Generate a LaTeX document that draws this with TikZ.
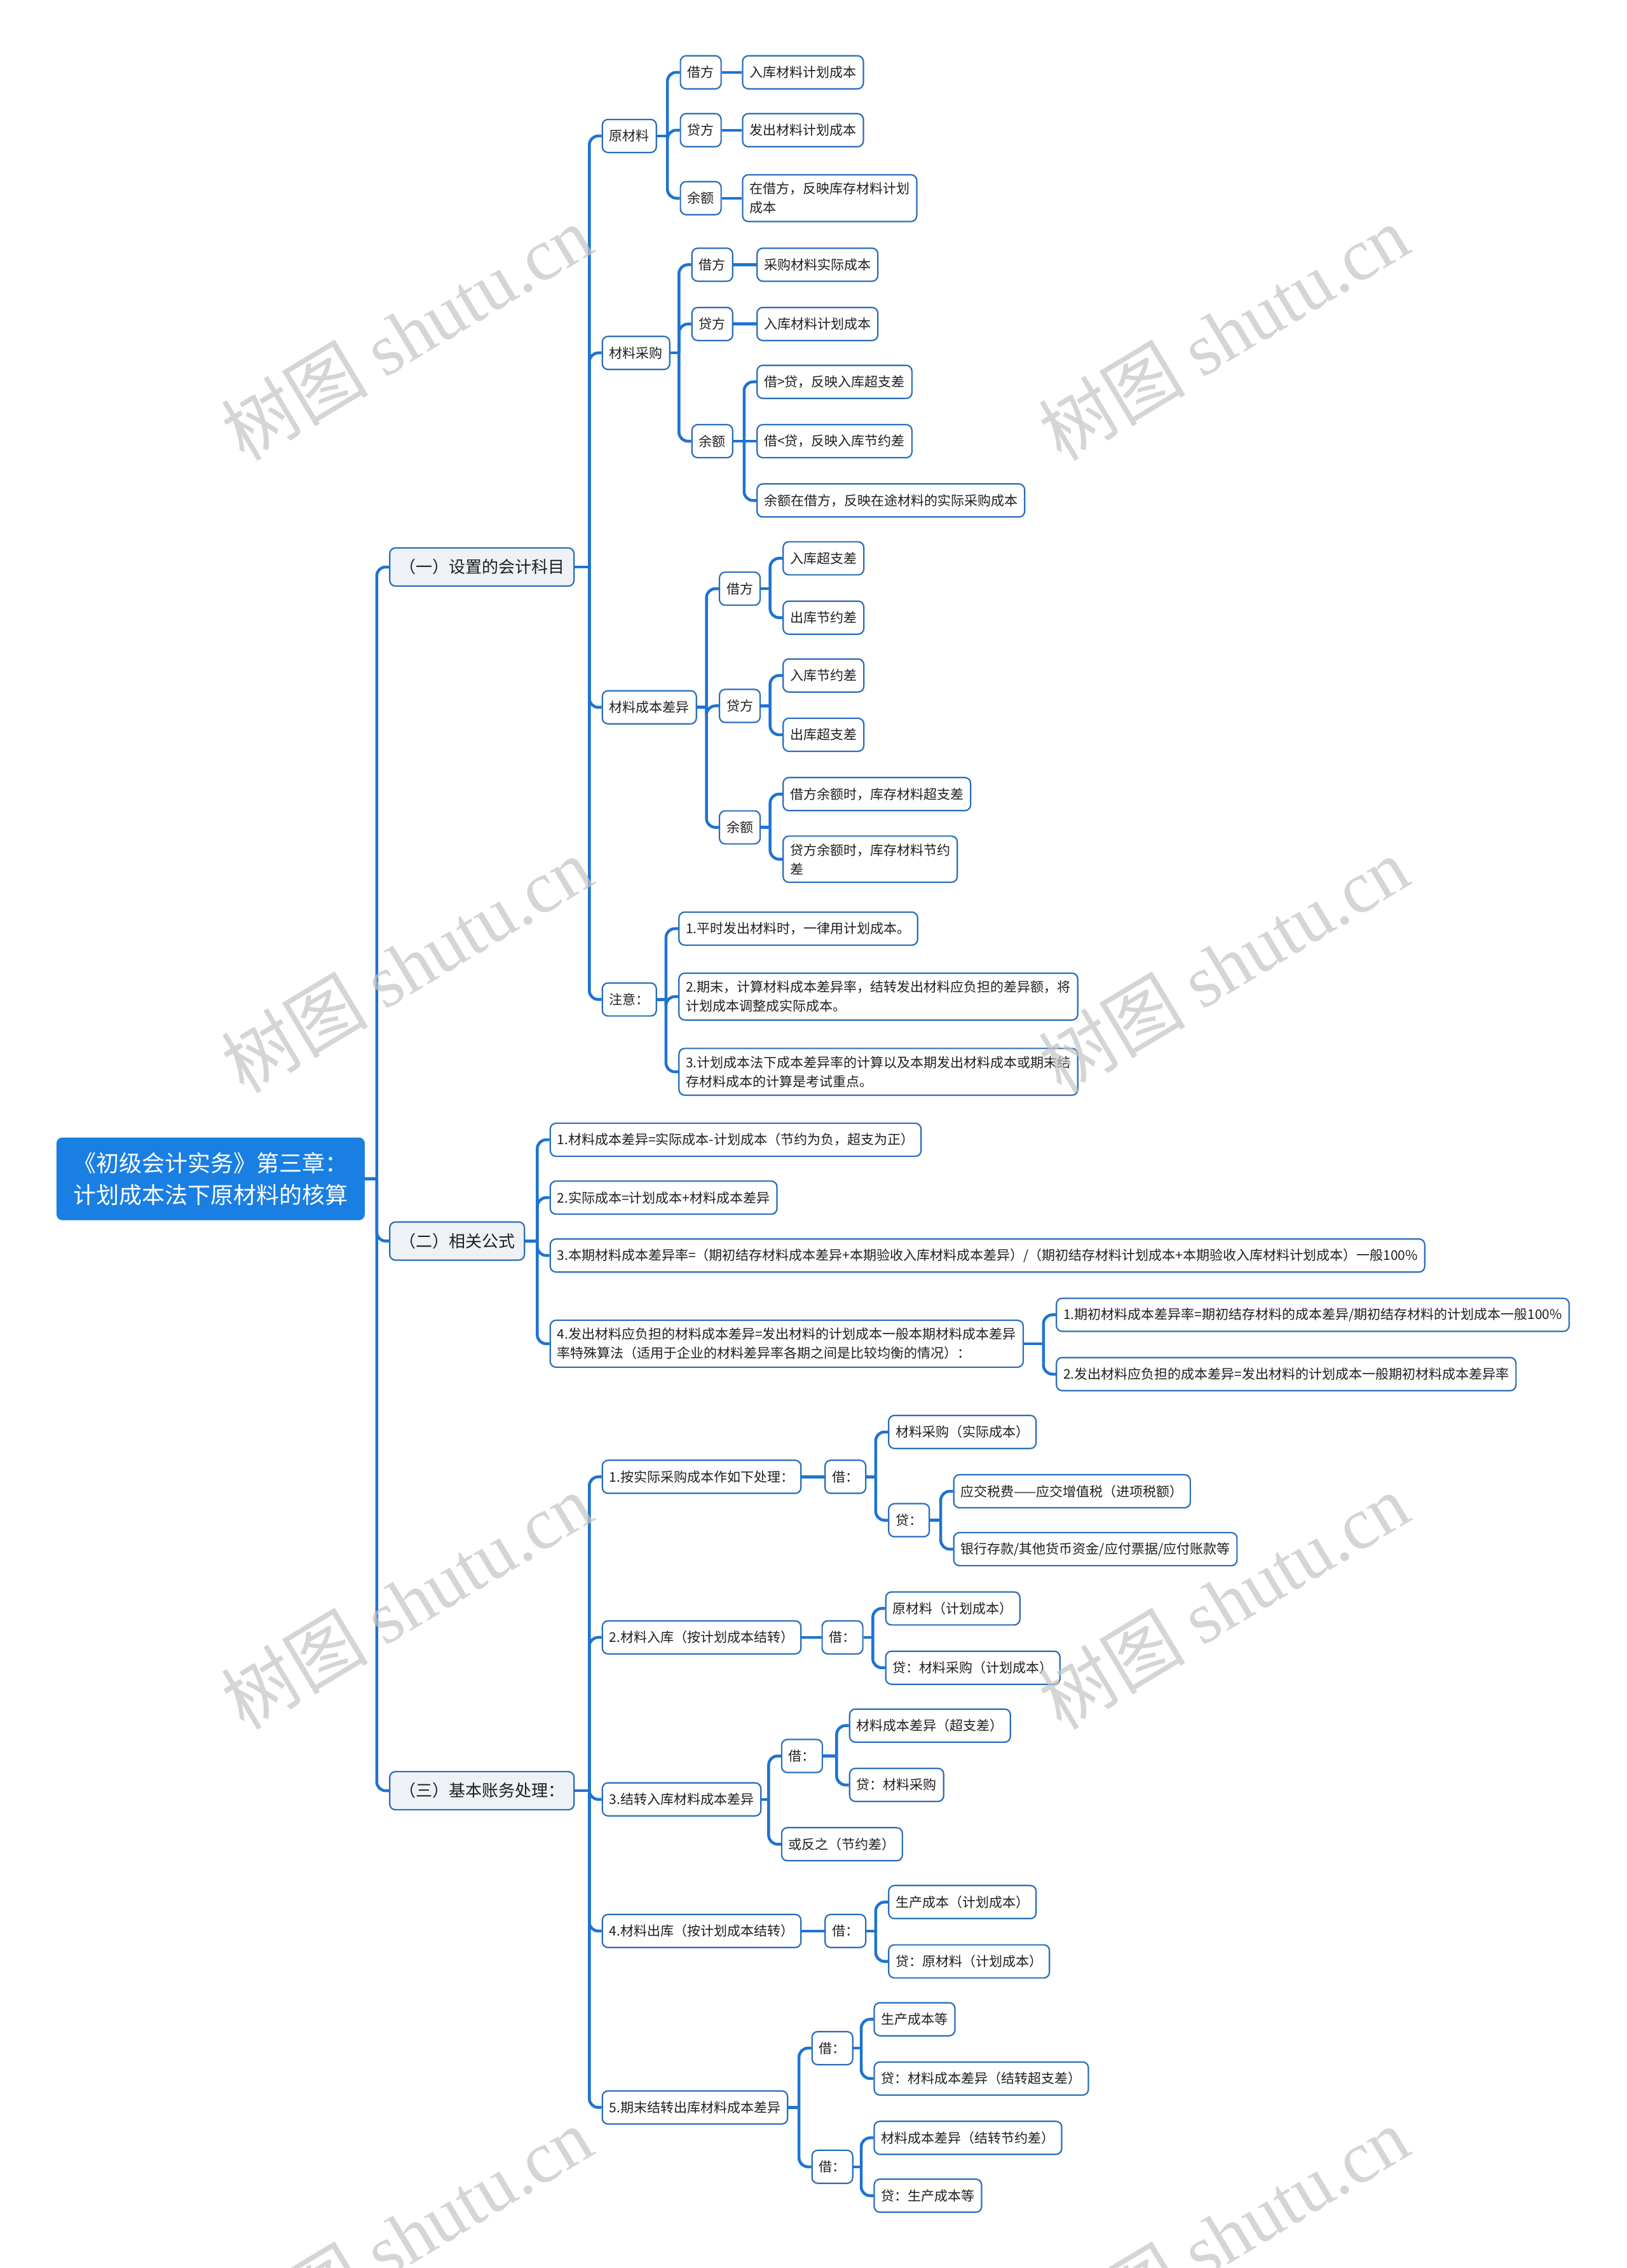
\documentclass[tikz,border=0pt]{standalone}
\usepackage{fontspec}
\setmainfont{Noto Sans CJK SC}
\newfontfamily\wmlatin{Liberation Serif}
\usetikzlibrary{calc}
\definecolor{lineblue}{HTML}{1E73D2}
\definecolor{boxblue}{HTML}{2A6EBB}
\definecolor{rootblue}{HTML}{1A7FE3}
\definecolor{lvlfill}{HTML}{EEF2F6}
\definecolor{txt}{HTML}{1F1F1F}
\definecolor{wmgrey}{HTML}{C4C4C4}
\newcommand\myfs[2]{\fontsize{#1}{#2}\selectfont}
\newcommand\mmfork[3]{%
  \draw[conn] (#1.east) -- ($(#1.east -| #2.west)+(-8.5,0)$) coordinate (#1-j);
  \foreach \c in {#3}{\draw[conn] (#1-j) |- (\c.west);}
}
\newcommand\mmline[2]{\draw[conn] (#1.east) -- (#2.west);}
\begin{document}
\begin{tikzpicture}[x=2.2756pt,y=-2.2756pt,
  box/.style={draw=boxblue, line width=2.2pt, rounded corners=9pt, fill=white, text=txt,
    inner xsep=11pt, inner ysep=12pt, minimum height=52pt, anchor=west, align=left,
    font=\myfs{21}{30}},
  lvl/.style={box, fill=lvlfill, font=\myfs{26}{32}, minimum height=60pt, inner xsep=15pt},
  rootbox/.style={draw=none, fill=rootblue, text=white, rounded corners=9pt, anchor=west,
    align=center, minimum width=485pt, minimum height=130pt, font=\myfs{36}{50}},
  conn/.style={draw=lineblue, line width=4.5pt, rounded corners=14pt},
  wm/.style={text=wmgrey, opacity=0.7, font=\myfs{116}{120}, rotate=31}]
\useasboundingbox[fill=white] (0,0) rectangle (1125,1568);

% root and level 1
\node[rootbox] (root) at (39,815) {《初级会计实务》第三章：\\计划成本法下原材料的核算};
\node[lvl] (a1) at (269,392) {（一）设置的会计科目};
\node[lvl] (a2) at (269,858) {（二）相关公式};
\node[lvl] (a3) at (269,1238) {（三）基本账务处理：};

% (一)
\node[box] (b1) at (416,94) {原材料};
\node[box] (b2) at (416,244) {材料采购};
\node[box] (b3) at (416,489) {材料成本差异};
\node[box] (b4) at (416,691) {注意：};

\node[box] (c11) at (470,50) {借方};
\node[box] (c12) at (470,90) {贷方};
\node[box] (c13) at (470,137) {余额};
\node[box] (d11) at (513,50) {入库材料计划成本};
\node[box] (d12) at (513,90) {发出材料计划成本};
\node[box] (d13) at (513,137) {在借方，反映库存材料计划\\成本};

\node[box] (c21) at (478,183) {借方};
\node[box] (c22) at (478,224) {贷方};
\node[box] (c23) at (478,305) {余额};
\node[box] (d21) at (523,183) {采购材料实际成本};
\node[box] (d22) at (523,224) {入库材料计划成本};
\node[box] (d231) at (523,264) {借>贷，反映入库超支差};
\node[box] (d232) at (523,305) {借<贷，反映入库节约差};
\node[box] (d233) at (523,346) {余额在借方，反映在途材料的实际采购成本};

\node[box] (c31) at (497,407) {借方};
\node[box] (c32) at (497,488) {贷方};
\node[box] (c33) at (497,572) {余额};
\node[box] (d311) at (541,386) {入库超支差};
\node[box] (d312) at (541,427) {出库节约差};
\node[box] (d321) at (541,467) {入库节约差};
\node[box] (d322) at (541,508) {出库超支差};
\node[box] (d331) at (541,549) {借方余额时，库存材料超支差};
\node[box] (d332) at (541,594) {贷方余额时，库存材料节约\\差};

\node[box] (c41) at (469,642) {1.平时发出材料时，一律用计划成本。};
\node[box] (c42) at (469,689) {2.期末，计算材料成本差异率，结转发出材料应负担的差异额，将\\计划成本调整成实际成本。};
\node[box] (c43) at (469,741) {3.计划成本法下成本差异率的计算以及本期发出材料成本或期末结\\存材料成本的计算是考试重点。};

% (二)
\node[box] (e1) at (380,788) {1.材料成本差异=实际成本-计划成本（节约为负，超支为正）};
\node[box] (e2) at (380,828) {2.实际成本=计划成本+材料成本差异};
\node[box] (e3) at (380,868) {3.本期材料成本差异率=（期初结存材料成本差异+本期验收入库材料成本差异）/（期初结存材料计划成本+本期验收入库材料计划成本）一般100\%};
\node[box] (e4) at (380,929) {4.发出材料应负担的材料成本差异=发出材料的计划成本一般本期材料成本差异\\率特殊算法（适用于企业的材料差异率各期之间是比较均衡的情况）：};
\node[box] (e41) at (730,909) {1.期初材料成本差异率=期初结存材料的成本差异/期初结存材料的计划成本一般100\%};
\node[box] (e42) at (730,950) {2.发出材料应负担的成本差异=发出材料的计划成本一般期初材料成本差异率};

% (三)
\node[box] (f1) at (416,1021) {1.按实际采购成本作如下处理：};
\node[box] (f2) at (416,1132) {2.材料入库（按计划成本结转）};
\node[box] (f3) at (416,1244) {3.结转入库材料成本差异};
\node[box] (f4) at (416,1335) {4.材料出库（按计划成本结转）};
\node[box] (f5) at (416,1457) {5.期末结转出库材料成本差异};

\node[box] (f1j) at (570,1021) {借：};
\node[box] (f1a) at (614,990) {材料采购（实际成本）};
\node[box] (f1b) at (614,1051) {贷：};
\node[box] (f1b1) at (659,1031) {应交税费——应交增值税（进项税额）};
\node[box] (f1b2) at (659,1071) {银行存款/其他货币资金/应付票据/应付账款等};

\node[box] (f2j) at (568,1132) {借：};
\node[box] (f2a) at (612,1112) {原材料（计划成本）};
\node[box] (f2b) at (612,1153) {贷：材料采购（计划成本）};

\node[box] (f3j) at (540,1214) {借：};
\node[box] (f3a) at (587,1193) {材料成本差异（超支差）};
\node[box] (f3b) at (587,1234) {贷：材料采购};
\node[box] (f3c) at (540,1275) {或反之（节约差）};

\node[box] (f4j) at (570,1335) {借：};
\node[box] (f4a) at (614,1315) {生产成本（计划成本）};
\node[box] (f4b) at (614,1356) {贷：原材料（计划成本）};

\node[box] (f5j) at (561,1416) {借：};
\node[box] (f5a) at (604,1396) {生产成本等};
\node[box] (f5b) at (604,1437) {贷：材料成本差异（结转超支差）};
\node[box] (f5k) at (561,1498) {借：};
\node[box] (f5c) at (604,1478) {材料成本差异（结转节约差）};
\node[box] (f5d) at (604,1518) {贷：生产成本等};

% connectors
\mmfork{root}{a1}{a1,a2,a3}
\mmfork{a1}{b1}{b1,b2,b3,b4}
\mmfork{b1}{c11}{c11,c12,c13}
\mmline{c11}{d11}
\mmline{c12}{d12}
\mmline{c13}{d13}
\mmfork{b2}{c21}{c21,c22,c23}
\mmline{c21}{d21}
\mmline{c22}{d22}
\mmfork{c23}{d231}{d231,d233}
\draw[conn] (c23-j) -- (d232.west);
\mmfork{b3}{c31}{c31,c32,c33}
\mmfork{c31}{d311}{d311,d312}
\mmfork{c32}{d321}{d321,d322}
\mmfork{c33}{d331}{d331,d332}
\mmfork{b4}{c41}{c41,c42,c43}
\mmfork{a2}{e1}{e1,e2,e3,e4}
\mmfork{e4}{e41}{e41,e42}
\mmfork{a3}{f1}{f1,f2,f3,f4,f5}
\mmline{f1}{f1j}
\mmfork{f1j}{f1a}{f1a,f1b}
\mmfork{f1b}{f1b1}{f1b1,f1b2}
\mmline{f2}{f2j}
\mmfork{f2j}{f2a}{f2a,f2b}
\mmfork{f3}{f3j}{f3j,f3c}
\mmfork{f3j}{f3a}{f3a,f3b}
\mmline{f4}{f4j}
\mmfork{f4j}{f4a}{f4a,f4b}
\mmfork{f5}{f5j}{f5j,f5k}
\mmfork{f5j}{f5a}{f5a,f5b}
\mmfork{f5k}{f5c}{f5c,f5d}

% watermarks
\foreach \x/\y [count=\i] in {281/230,846/230,281/667,846/667,281/1107,846/1107,281/1545,846/1545}
  \node[wm] (wm\i) at (\x,\y) {树图 {\wmlatin shutu.cn}};
\end{tikzpicture}
\end{document}
